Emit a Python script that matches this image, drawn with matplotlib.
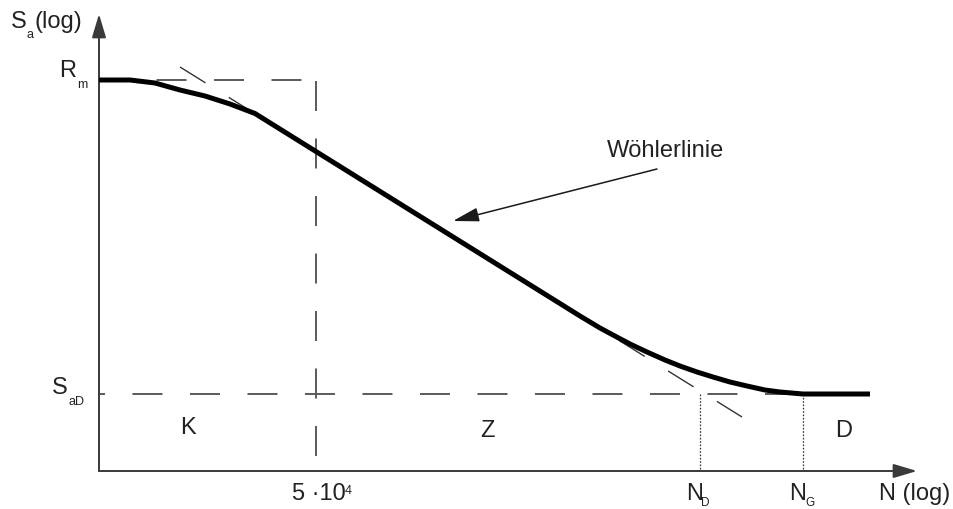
import matplotlib
matplotlib.use("Agg")
import matplotlib.pyplot as plt

plt.rcParams['font.family'] = ['Liberation Sans', 'DejaVu Sans']
plt.rcParams['lines.scale_dashes'] = False

# Schematic drawing units (x: log N, y: log Sa, drawn downward-increasing)
curve_x = [99, 130, 155, 180, 205, 230, 255, 580, 600, 613, 630, 647, 665, 680,
           697, 713, 730, 747, 765, 780, 803, 870]
curve_y = [81, 81, 84, 91, 97, 105, 114.5, 317, 329, 336, 345, 353, 361, 367,
           373, 378, 383, 387, 391, 393, 395, 395]

basquin_x = [180, 742]
basquin_y = [68, 418]

x_axis0, x_axis_tip = 99, 917
y_axis0, y_axis_tip = 472, 15
Rm_level = 81
SaD_level = 395
N_knee = 316
N_D = 700
N_G = 803

tick_labels = {"knee": "5 ·10", "knee_exp": "4"}

fig = plt.figure(figsize=(9.54, 5.10), dpi=100)
ax = fig.add_axes([0, 0, 1, 1])
ax.set_xlim(0, 954)
ax.set_ylim(510, 0)
ax.axis('off')

axis_col = '#3a3a3a'
dash_col = '#5a5a5a'

# axes with arrows
ax.annotate('', xy=(x_axis0, y_axis_tip), xytext=(x_axis0, y_axis0),
            arrowprops=dict(arrowstyle='-|>,head_length=14.4,head_width=4.3',
                            mutation_scale=1, lw=1.4, color=axis_col,
                            shrinkA=0, shrinkB=0))
ax.annotate('', xy=(x_axis_tip, y_axis0), xytext=(x_axis0, y_axis0),
            arrowprops=dict(arrowstyle='-|>,head_length=14.4,head_width=4.3',
                            mutation_scale=1, lw=1.4, color=axis_col,
                            shrinkA=0, shrinkB=0))

# dashed reference lines
ax.plot([x_axis0, N_knee], [Rm_level, Rm_level], color=dash_col, lw=1.4,
        linestyle=(0, (21.6, 19.8)))
ax.plot([N_knee, N_knee], [Rm_level + 1, 458], color=dash_col, lw=1.4,
        linestyle=(0, (21.6, 19.8)))
ax.plot([x_axis0, N_G], [SaD_level, SaD_level], color=dash_col, lw=1.4,
        linestyle=(17.3, (21.6, 19.8)))
ax.plot(basquin_x, basquin_y, color='#333333', lw=1.0,
        linestyle=(0, (21.6, 19.8)))

# dotted verticals
for xv in (N_D, N_G):
    ax.plot([xv, xv], [SaD_level, y_axis0], color='#333333', lw=0.9,
            linestyle=(0, (1.2, 1.2)))

# Wöhler curve
ax.plot(curve_x, curve_y, color='black', lw=3.6, solid_capstyle='butt',
        solid_joinstyle='round', zorder=5)

# annotation arrow
ax.annotate('', xy=(453, 222), xytext=(657, 170),
            arrowprops=dict(arrowstyle='-|>,head_length=16,head_width=4.3',
                            mutation_scale=1, lw=1.1, color='#1a1a1a',
                            shrinkA=0, shrinkB=0))
txt = dict(fontsize=17, color='#222222', va='baseline', ha='left')
sub = dict(fontsize=9, color='#222222', va='baseline', ha='left')
sub_small = dict(fontsize=8.5, color='#222222', va='baseline', ha='left')
ax.text(607, 157, 'Wöhlerlinie', **txt)

# labels
ax.text(11, 28, 'S', **txt)
ax.text(27, 38, 'a', **sub)
ax.text(35, 28, '(log)', **txt)
ax.text(59, 77, 'R', **txt)
ax.text(77, 88, 'm', **sub)
ax.text(52, 394, 'S', **txt)
ax.text(69, 405, 'aD', **sub)

ax.text(180, 434, 'K', **txt)
ax.text(480, 437, 'Z', **txt)
ax.text(835, 437, 'D', **txt)

ax.text(292, 500, tick_labels["knee"], **txt)
ax.text(345, 494, tick_labels["knee_exp"], **sub)
ax.text(686, 500, 'N', **txt)
ax.text(701, 506.5, 'D', **sub_small)
ax.text(789, 500, 'N', **txt)
ax.text(805, 506.5, 'G', **sub_small)
ax.text(879, 500, 'N (log)', **txt)

fig.savefig('out.png', dpi=100)
